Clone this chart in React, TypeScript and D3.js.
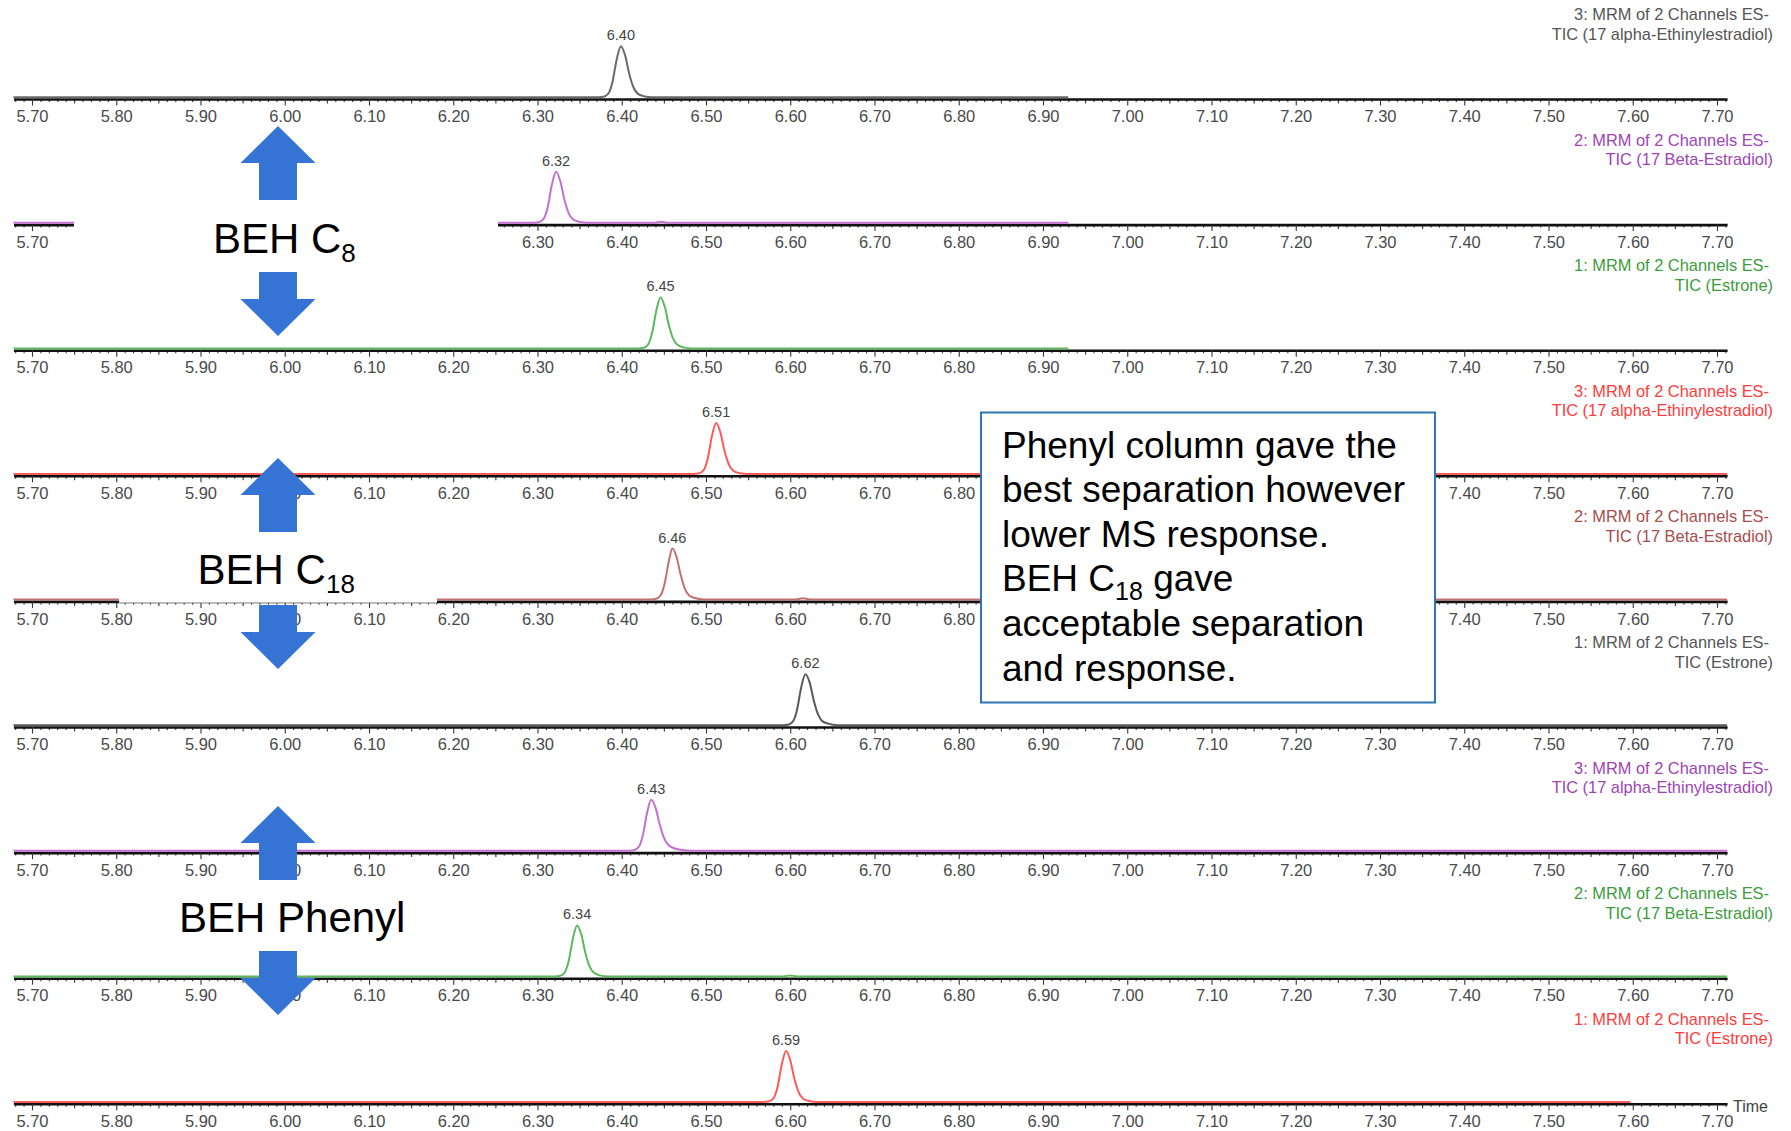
import React, { useRef, useEffect } from 'react';
import * as d3 from 'd3';

const WIDTH = 1791;
const HEIGHT = 1131;
const FONT = 'Liberation Sans, Arial, sans-serif';

// x axis (retention time, min)
const timeDomain = [5.678, 7.712];
const tickLabels = [5.7, 5.8, 5.9, 6.0, 6.1, 6.2, 6.3, 6.4, 6.5, 6.6, 6.7, 6.8, 6.9, 7.0, 7.1, 7.2, 7.3, 7.4, 7.5, 7.6, 7.7];

// one entry per trace, top to bottom
const channelTitles = [
  '3: MRM of 2 Channels ES-', '2: MRM of 2 Channels ES-', '1: MRM of 2 Channels ES-',
  '3: MRM of 2 Channels ES-', '2: MRM of 2 Channels ES-', '1: MRM of 2 Channels ES-',
  '3: MRM of 2 Channels ES-', '2: MRM of 2 Channels ES-', '1: MRM of 2 Channels ES-',
];
const compounds = [
  'TIC (17 alpha-Ethinylestradiol)', 'TIC (17 Beta-Estradiol)', 'TIC (Estrone)',
  'TIC (17 alpha-Ethinylestradiol)', 'TIC (17 Beta-Estradiol)', 'TIC (Estrone)',
  'TIC (17 alpha-Ethinylestradiol)', 'TIC (17 Beta-Estradiol)', 'TIC (Estrone)',
];
const peakLabels = ['6.40', '6.32', '6.45', '6.51', '6.46', '6.62', '6.43', '6.34', '6.59'];
const lineColors = ['#6a6a6a', '#c46fd2', '#5cb85c', '#ff5a5a', '#c07272', '#5a5a5a', '#c46fd2', '#5cb85c', '#ff5a5a'];
const textColors = ['#555555', '#a044b4', '#3c9c3c', '#ff3c3c', '#a84c4c', '#555555', '#a044b4', '#3c9c3c', '#ff3c3c'];

// [time, relative intensity %]
const traceEE2_C8 = [[5.678, 0], [6.368, 0], [6.378, 1], [6.384, 7], [6.389, 30], [6.394, 74], [6.399, 100], [6.404, 82], [6.409, 45], [6.414, 19], [6.419, 7], [6.426, 2], [6.436, 0], [6.93, 0]];
const traceE2_C8 = [[5.678, 0], [6.291, 0], [6.301, 1], [6.307, 7], [6.312, 30], [6.317, 74], [6.322, 100], [6.327, 82], [6.332, 45], [6.337, 19], [6.342, 7], [6.349, 2], [6.36, 0], [6.44, 0], [6.447, 2], [6.454, 0], [6.93, 0]];
const traceE1_C8 = [[5.678, 0], [6.415, 0], [6.425, 1], [6.431, 7], [6.436, 30], [6.441, 74], [6.446, 100], [6.451, 82], [6.456, 45], [6.461, 19], [6.466, 7], [6.473, 2], [6.483, 0], [6.93, 0]];
const traceEE2_C18 = [[5.678, 0], [6.481, 0], [6.491, 1], [6.497, 7], [6.502, 30], [6.507, 74], [6.512, 100], [6.517, 82], [6.522, 45], [6.527, 19], [6.532, 7], [6.539, 2], [6.549, 0], [7.712, 0]];
const traceE2_C18 = [[5.678, 0], [6.43, 0], [6.44, 1], [6.446, 8], [6.451, 32], [6.456, 76], [6.46, 100], [6.465, 84], [6.47, 48], [6.475, 21], [6.48, 8], [6.487, 3], [6.497, 0], [6.605, 0], [6.615, 2.5], [6.625, 0], [7.712, 0]];
const traceE1_C18 = [[5.678, 0], [6.587, 0], [6.597, 1], [6.603, 7], [6.608, 30], [6.613, 74], [6.618, 100], [6.623, 84], [6.628, 48], [6.633, 21], [6.638, 8], [6.645, 3], [6.656, 0], [7.712, 0]];
const traceEE2_Ph = [[5.678, 0], [6.405, 0], [6.414, 1], [6.42, 7], [6.425, 30], [6.43, 74], [6.435, 100], [6.44, 85], [6.445, 52], [6.45, 26], [6.455, 12], [6.462, 5], [6.472, 1.5], [6.482, 0], [7.712, 0]];
const traceE2_Ph = [[5.678, 0], [6.316, 0], [6.326, 1], [6.332, 7], [6.337, 30], [6.342, 74], [6.347, 100], [6.352, 82], [6.357, 45], [6.362, 19], [6.367, 7], [6.374, 2], [6.384, 0], [6.592, 0], [6.6, 2], [6.608, 0], [7.712, 0]];
const traceE1_Ph = [[5.678, 0], [6.564, 0], [6.574, 1], [6.58, 7], [6.585, 30], [6.59, 74], [6.595, 100], [6.6, 82], [6.605, 45], [6.61, 19], [6.615, 7], [6.622, 2], [6.632, 0], [7.597, 0]];

const traces = [traceEE2_C8, traceE2_C8, traceE1_C8, traceEE2_C18, traceE2_C18, traceE1_C18, traceEE2_Ph, traceE2_Ph, traceE1_Ph];

const noteLines = ['Phenyl column gave the', 'best separation however', 'lower MS response.', null, 'acceptable separation', 'and response.'];

const FIRST_AXIS = 99;
const PANEL_GAP = 125.6;
const PEAK_H = 51;

const x = d3.scaleLinear().domain([5.7, 7.7]).range([32, 1717]);
const minorVals = d3.range(568, 772).filter((v) => v % 5 !== 0).map((v) => v / 100);
const midVals = d3.range(568, 772).filter((v) => v % 5 === 0 && v % 10 !== 0).map((v) => v / 100);

const Panel = ({ index }) => {
  const axisRef = useRef(null);
  const axisY = FIRST_AXIS + index * PANEL_GAP;
  const y = d3.scaleLinear().domain([0, 100]).range([axisY - 1.8, axisY - 1.8 - PEAK_H]);
  const data = traces[index];
  const line = d3.line().x((d) => x(d[0])).y((d) => y(d[1])).curve(d3.curveMonotoneX);
  const apex = data.reduce((a, b) => (b[1] > a[1] ? b : a));

  useEffect(() => {
    const g = d3.select(axisRef.current);
    g.selectAll('*').remove();
    const scale = x.copy().domain(timeDomain).range([x(timeDomain[0]), x(timeDomain[1])]);
    g.append('g')
      .call(d3.axisBottom(scale).tickValues(minorVals).tickSize(3).tickSizeOuter(0).tickFormat(() => ''))
      .call((s) => s.select('.domain').remove());
    g.append('g')
      .call(d3.axisBottom(scale).tickValues(midVals).tickSize(4.5).tickSizeOuter(0).tickFormat(() => ''))
      .call((s) => s.select('.domain').remove());
    const major = g.append('g')
      .call(d3.axisBottom(scale).tickValues(tickLabels).tickSize(6.5).tickSizeOuter(0).tickPadding(5).tickFormat(d3.format('.2f')));
    major.select('.domain').attr('stroke', '#111').attr('stroke-width', 2.6);
    major.selectAll('text').attr('font-family', FONT).attr('font-size', 16.5).attr('fill', '#4a4a4a');
    g.selectAll('.tick line').attr('stroke', '#333').attr('stroke-width', 1.1);
  }, []);

  return (
    <g>
      <g ref={axisRef} transform={`translate(0,${axisY})`} />
      <path d={line(data)} fill="none" stroke={lineColors[index]} strokeWidth={2} />
      <text x={x(apex[0])} y={y(100) - 6} textAnchor="middle" fontFamily={FONT} fontSize={14.5} fill="#444">
        {peakLabels[index]}
      </text>
      <g fontFamily={FONT} fontSize={16.4} fill={textColors[index]} textAnchor="end">
        <text x={1769} y={axisY - 79}>{channelTitles[index]}</text>
        <text x={1773} y={axisY - 59.5}>{compounds[index]}</text>
      </g>
    </g>
  );
};

const Arrows = ({ cx, upApex, downTop }) => {
  const up = [[cx, upApex], [cx + 37.5, upApex + 37], [cx + 19, upApex + 37], [cx + 19, upApex + 74], [cx - 19, upApex + 74], [cx - 19, upApex + 37], [cx - 37.5, upApex + 37]];
  const down = [[cx - 19, downTop], [cx + 19, downTop], [cx + 19, downTop + 27], [cx + 37.5, downTop + 27], [cx, downTop + 64], [cx - 37.5, downTop + 27], [cx - 19, downTop + 27]];
  return (
    <g fill="#3574d4">
      <polygon points={up.map((p) => p.join(',')).join(' ')} />
      <polygon points={down.map((p) => p.join(',')).join(' ')} />
    </g>
  );
};

const App = () => {
  return (
    <svg width={WIDTH} height={HEIGHT} style={{ position: 'absolute', left: 0, top: 0, display: 'block', background: '#fff' }}>
      <rect width={WIDTH} height={HEIGHT} fill="#fff" />
      {traces.map((t, i) => (
        <Panel key={i} index={i} />
      ))}
      <text x={1733} y={FIRST_AXIS + 8 * PANEL_GAP + 8.5} fontFamily={FONT} fontSize={16} fill="#444">Time</text>

      {/* white label backgrounds */}
      <rect x={74} y={180} width={424} height={85} fill="#fff" />
      <rect x={119} y={540} width={318} height={FIRST_AXIS + 4 * PANEL_GAP + 1.3 - 540} fill="#fff" />

      <Arrows cx={278} upApex={126} downTop={272} />
      <Arrows cx={278} upApex={458} downTop={605} />
      <Arrows cx={278} upApex={806} downTop={951} />

      <g fontFamily={FONT} fontSize={42} fill="#000">
        <text x={213} y={252.5}>BEH C<tspan fontSize={26} dy={9}>8</tspan></text>
        <text x={197.6} y={584}>BEH C<tspan fontSize={26} dy={9}>18</tspan></text>
        <text x={179} y={932}>BEH Phenyl</text>
      </g>

      <rect x={981} y={412.5} width={454} height={290} fill="#fff" stroke="#2e75b6" strokeWidth={2} />
      <g fontFamily={FONT} fontSize={37} fill="#000">
        {noteLines.map((l, i) =>
          l === null ? (
            <text key={i} x={1002} y={457.5 + i * 44.6}>
              BEH C<tspan fontSize={25} dy={9}>18</tspan><tspan dy={-9}> gave</tspan>
            </text>
          ) : (
            <text key={i} x={1002} y={457.5 + i * 44.6}>{l}</text>
          )
        )}
      </g>
    </svg>
  );
};

export default App;
